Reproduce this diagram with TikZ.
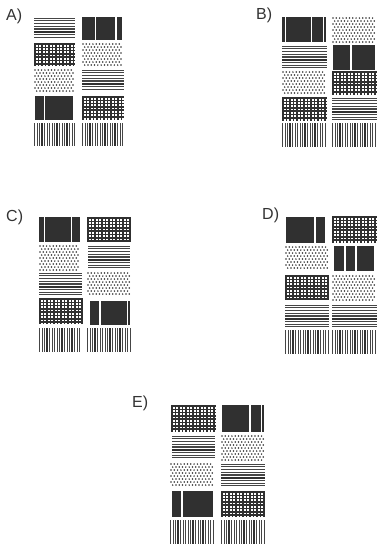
\documentclass[tikz,border=0pt]{standalone}
\usepackage{fontspec}
\setmainfont{Liberation Sans}
\usetikzlibrary{positioning}
\definecolor{TileInk}{HTML}{303030}
\definecolor{LabelInk}{HTML}{333333}
\tikzset{
  panellabel/.style={font=\fontsize{16}{18}\selectfont, text=LabelInk, inner sep=0pt, anchor=base west},
  thinline/.style={draw=TileInk!90, line width=1.15pt},
  thickline/.style={draw=TileInk, line width=2.0pt},
  gridline/.style={draw=TileInk, line width=1.6pt},
  dotfill/.style={fill=TileInk},
  blockfill/.style={fill=TileInk}
}

% tiles: x, y (top left), w, h
\newcommand{\hstripes}[4]{%
  \pgfmathtruncatemacro{\nst}{(#4-2)/2.7}%
  \foreach \k in {0,...,\nst}{%
    \ifnum\k=5 \draw[thickline] (#1,#2+1.2+\k*2.7) -- ++(#3,0);
    \else \draw[thinline] (#1,#2+1.2+\k*2.7) -- ++(#3,0); \fi
  }%
}
\newcommand{\vstripes}[4]{%
  \pgfmathtruncatemacro{\nst}{(#3-1)/2.5}%
  \foreach \k in {0,...,\nst}
    \draw[thinline] (#1+0.6+\k*2.5,#2) -- ++(0,#4);
  \foreach \k in {3,9,13}
    \draw[thickline] (#1+0.6+\k*2.5,#2) -- ++(0,#4);
}
\newcommand{\gridtile}[4]{%
  \pgfmathtruncatemacro{\nh}{(#4-1)/3.3}%
  \pgfmathtruncatemacro{\nv}{(#3-1)/3.5}%
  \foreach \k in {0,...,\nh}
    \draw[gridline] (#1,#2+1+\k*3.3) -- ++(#3,0);
  \foreach \k in {0,...,\nv}
    \draw[gridline] (#1+1+\k*3.5,#2) -- ++(0,#4);
}
\newcommand{\dottile}[4]{%
  \pgfmathtruncatemacro{\nr}{(#4-1)/3.0}%
  \pgfmathtruncatemacro{\nc}{(#3-3.5)/3.3}%
  \foreach \ri in {0,...,\nr}{%
    \foreach \ci in {0,...,\nc}{%
      \pgfmathsetmacro{\dx}{mod(\ri,2)*1.65}%
      \fill[dotfill] (#1+1+\ci*3.3+\dx,#2+1+\ri*3.0) circle[radius=0.85];
    }%
  }%
}
% block: x, y, w, h, gap offsets
\newcommand{\blocktile}[5]{%
  \fill[blockfill] (#1,#2) rectangle ++(#3,#4);
  \foreach \g in {#5}
    \fill[white] (#1+\g-0.8,#2) rectangle ++(1.6,#4);
}

\begin{document}
\begin{tikzpicture}[x=1pt, y=-1pt]
\useasboundingbox (0,0) rectangle (377,550);

% A)
\node[panellabel] (labA) at (6,20) {A)};
\hstripes{34}{17}{41}{23}
\gridtile{34}{43}{41}{23}
\dottile{34}{69}{41}{23}
\blocktile{35}{96}{38}{24}{9.5}
\vstripes{34}{123}{41}{23}
\blocktile{82}{17}{40}{23}{13.5,34}
\dottile{82}{43}{42}{23}
\hstripes{82}{69}{42}{23}
\gridtile{82}{96}{42}{24}
\vstripes{82}{123}{42}{23}

% B)
\node[panellabel] (labB) at (256,19) {B)};
\blocktile{282}{17}{44}{25}{3.5,29.5,41.5}
\hstripes{282}{45}{45}{24}
\dottile{282}{71}{45}{24}
\gridtile{282}{97}{45}{24}
\vstripes{282}{123}{45}{24}
\dottile{332}{17}{45}{25}
\blocktile{333}{45}{42}{25}{18}
\gridtile{332}{71}{45}{24}
\hstripes{332}{97}{45}{24}
\vstripes{332}{123}{45}{24}

% C)
\node[panellabel] (labC) at (6,221) {C)};
\blocktile{39}{217}{41}{25}{5.5,32.5}
\dottile{39}{245}{43}{25}
\hstripes{39}{272}{43}{24}
\gridtile{39}{298}{43}{26}
\vstripes{39}{328}{43}{24}
\gridtile{87}{217}{44}{25}
\hstripes{88}{245}{42}{25}
\dottile{87}{272}{44}{24}
\blocktile{90}{301}{40}{24}{10,37.5}
\vstripes{87}{328}{44}{24}

% D)
\node[panellabel] (labD) at (262,219) {D)};
\blocktile{286}{217}{39}{26}{29}
\dottile{285}{246}{44}{24}
\gridtile{285}{275}{44}{25}
\hstripes{285}{304}{44}{24}
\vstripes{285}{330}{44}{24}
\gridtile{332}{216}{45}{27}
\blocktile{334}{246}{40}{25}{11,22}
\dottile{332}{275}{45}{25}
\hstripes{332}{304}{45}{24}
\vstripes{332}{330}{45}{24}

% E)
\node[panellabel] (labE) at (132,407) {E)};
\gridtile{171}{405}{45}{27}
\hstripes{172}{435}{43}{24}
\dottile{170}{463}{45}{24}
\blocktile{172}{491}{41}{26}{10}
\vstripes{170}{520}{45}{24}
\blocktile{222}{405}{42}{27}{28,39.5}
\dottile{221}{435}{44}{25}
\hstripes{221}{463}{44}{24}
\gridtile{221}{491}{44}{26}
\vstripes{221}{520}{44}{24}
\end{tikzpicture}
\end{document}
